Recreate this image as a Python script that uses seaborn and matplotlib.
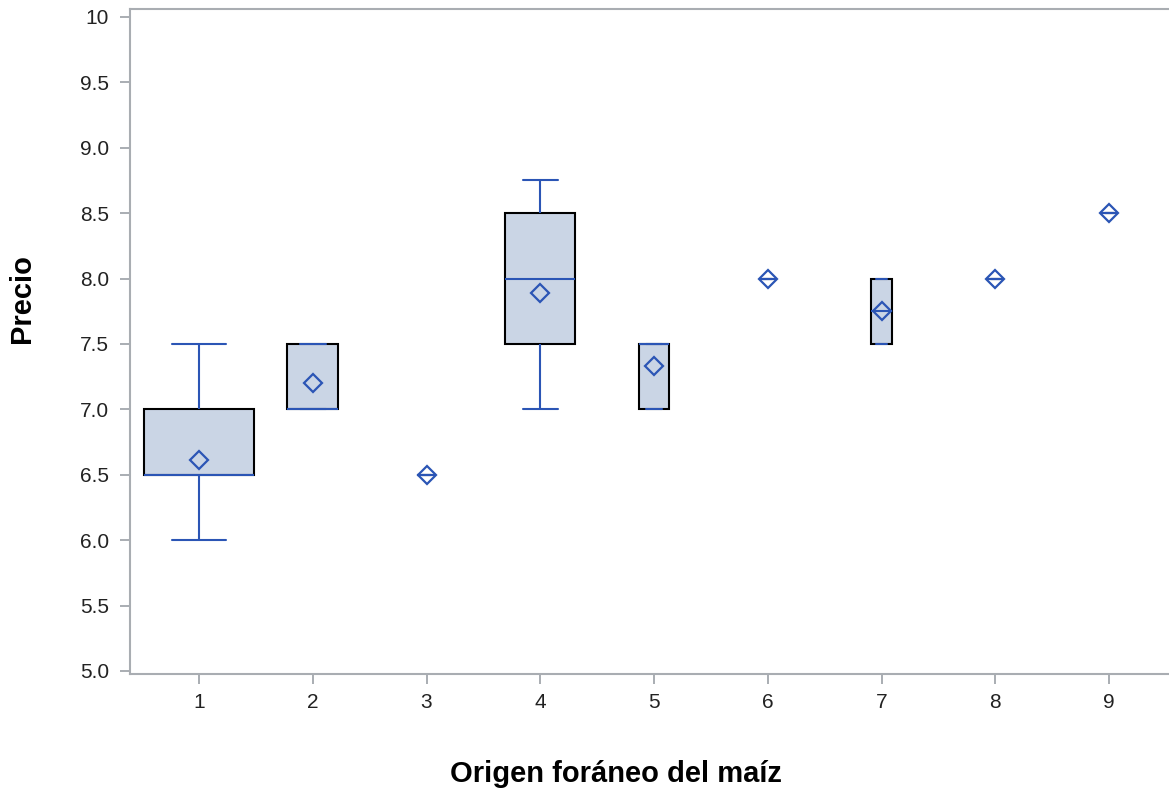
import matplotlib
matplotlib.use("Agg")
import matplotlib.pyplot as plt
from matplotlib.ticker import FixedLocator, FixedFormatter
import pandas as pd
import seaborn as sns

# Origin groups of the maize and the observed prices in each group
ORIGEN = ["1", "2", "3", "4", "5", "6", "7", "8", "9"]
precio_1 = [6.0, 6.0, 6.5, 6.5, 6.5, 6.5, 7.0, 7.0, 7.5]
precio_2 = [7.0, 7.0, 7.0, 7.5, 7.5]
precio_3 = [6.5]
precio_4 = [7.0, 7.25, 7.5, 7.5, 8.0, 8.0, 8.5, 8.5, 8.75]
precio_5 = [7.0, 7.0, 7.0, 7.5, 7.5, 7.5, 7.5, 7.5, 7.5]
precio_6 = [8.0]
precio_7 = [7.5, 7.5, 8.0, 8.0]
precio_8 = [8.0]
precio_9 = [8.5]
PRECIOS = [precio_1, precio_2, precio_3, precio_4, precio_5,
           precio_6, precio_7, precio_8, precio_9]

# Price axis ticks and their labels
Y_TICKS = [5.0, 5.5, 6.0, 6.5, 7.0, 7.5, 8.0, 8.5, 9.0, 9.5, 10.0]
Y_TICK_LABELS = ["5.0", "5.5", "6.0", "6.5", "7.0", "7.5", "8.0", "8.5", "9.0", "9.5", "10"]

# Relative box width for each group
BOX_WIDTHS = [0.96, 0.45, 0.16, 0.615, 0.27, 0.16, 0.19, 0.16, 0.16]

FILL = "#CAD5E5"
BLUE = "#2B55B5"
SPINE = "#A9ADB2"

df = pd.DataFrame(
    [(o, p) for o, vals in zip(ORIGEN, PRECIOS) for p in vals],
    columns=["origen", "precio"],
)

sns.set_theme(style="white")
plt.rcParams["font.family"] = ["Liberation Sans", "DejaVu Sans"]

fig = plt.figure(figsize=(11.69, 7.93), dpi=100)
ax = fig.add_axes([130 / 1169, 1 - 674 / 793, 1039 / 1169, 665 / 793])

for origen, w in zip(ORIGEN, BOX_WIDTHS):
    sub = df[df["origen"] == origen]
    sns.boxplot(
        data=sub, x="origen", y="precio", order=ORIGEN, ax=ax,
        width=w, color=FILL, saturation=1, linecolor="black", linewidth=1.5,
        whis=1.5, showfliers=False, showmeans=True,
        boxprops=dict(edgecolor="black", linewidth=1.5),
        whiskerprops=dict(color=BLUE, linewidth=1.5),
        capprops=dict(color=BLUE, linewidth=1.5, zorder=2.05),
        medianprops=dict(color=BLUE, linewidth=1.5),
        meanprops=dict(marker="D", markerfacecolor="none", markeredgecolor=BLUE,
                       markeredgewidth=1.6, markersize=9.5),
    )

ax.set_xlim(-0.607, 8.527)
ax.set_ylim(4.977, 10.061)
ax.yaxis.set_major_locator(FixedLocator(Y_TICKS))
ax.yaxis.set_major_formatter(FixedFormatter(Y_TICK_LABELS))

for side in ["left", "bottom", "top"]:
    ax.spines[side].set_visible(True)
    ax.spines[side].set_color(SPINE)
    ax.spines[side].set_linewidth(1.5)
ax.spines["right"].set_visible(False)

ax.tick_params(axis="both", which="major", direction="out", length=7.5, width=1.4,
               color=SPINE, labelsize=15, labelcolor="#222222",
               left=True, bottom=True)
ax.tick_params(axis="y", pad=7.5)
ax.tick_params(axis="x", pad=6)

ax.set_xlabel("Origen foráneo del maíz", fontsize=21, fontweight="bold", color="black", va="top")
ax.set_ylabel("Precio", fontsize=21, fontweight="bold", color="black", va="center")
ax.xaxis.set_label_coords(0.468, -0.13)
ax.yaxis.set_label_coords(-0.104, 0.564)

fig.savefig("out.png", dpi=100)
